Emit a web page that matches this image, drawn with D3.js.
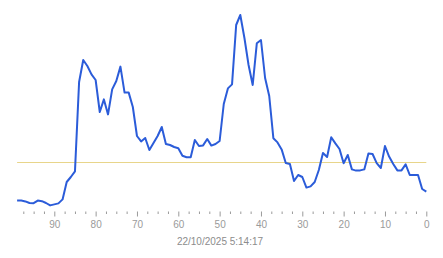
<!DOCTYPE html>
<html>
<head>
<meta charset="utf-8">
<script src="https://cdn.jsdelivr.net/npm/d3@7"></script>
<style>
  html, body { margin: 0; padding: 0; background: #fff; }
  svg { display: block; }
  .axis text { font-family: "Liberation Sans", Arial, sans-serif; font-size: 10px; fill: #9a9a9a; }
  .axis line { stroke: #9a9a9a; }
</style>
</head>
<body>
<div id="chart"></div>
<script>
// samples, oldest first (99 samples ago ... 0 = now)
const values = [
  4.7, 4.7, 4.3, 3.5, 3.4, 4.7, 4.4, 3.5, 2.3, 2.8,
  3.3, 5.3, 14, 16.5, 19.3, 64, 75, 72, 67.8, 65,
  49, 55.3, 47.8, 60.3, 64.5, 71.7, 58.7, 58.7, 51.5, 37,
  34.3, 36, 30, 33.5, 37, 41.5, 33, 32.5, 31.5, 30.9,
  27.1, 26.4, 26.4, 35, 32, 32.3, 35.5, 32.2, 33, 34.5,
  53, 60.8, 62.8, 92.5, 97.5, 86, 72.5, 62.5, 83.4, 85,
  66, 57, 35.9, 33.8, 30.3, 23.5, 23, 14.5, 17.5, 16.5,
  11.2, 11.8, 14, 20, 28.5, 26.5, 36.4, 33.3, 30.5, 23.4,
  27.5, 20.3, 19.7, 19.8, 20.3, 28.3, 28, 23.4, 21, 32,
  26.7, 23, 19.8, 19.8, 22.8, 17.5, 17.5, 17.5, 10.5, 9.2
];
const threshold = 23.9;
const majorTicks = [90, 80, 70, 60, 50, 40, 30, 20, 10, 0];
const timestamp = "22/10/2025 5:14:17";

const width = 443, height = 258;
const data = values.map((v, i) => ({ ago: values.length - 1 - i, v: v }));

const x = d3.scaleLinear().domain([99, 0]).range([17.1, 426.3]);
const y = d3.scaleLinear().domain([0, 100]).range([210, 10]);

const svg = d3.select("#chart").append("svg")
    .attr("width", width)
    .attr("height", height);

// minor ticks every 2.5
const minorTicks = d3.range(0, 99, 2.5).filter(d => d % 10 !== 0);
svg.append("g")
    .attr("class", "axis minor")
    .attr("transform", "translate(0,211.5)")
    .call(d3.axisBottom(x).tickValues(minorTicks).tickSize(2.5).tickFormat(""))
    .call(g => g.select(".domain").remove());

svg.append("g")
    .attr("class", "axis major")
    .attr("transform", "translate(0,211.5)")
    .call(d3.axisBottom(x).tickValues(majorTicks).tickSize(5).tickPadding(4).tickFormat(d3.format("d")))
    .call(g => g.select(".domain").remove());

// threshold line
svg.append("line")
    .attr("x1", x(99))
    .attr("x2", x(0))
    .attr("y1", Math.round(y(threshold)) + 0.5)
    .attr("y2", Math.round(y(threshold)) + 0.5)
    .style("stroke", "#e8d58a")
    .style("stroke-width", 1);

const valueline = d3.line()
    .x(function(d) { return x(d.ago); })
    .y(function(d) { return y(d.v); });

svg.append("path")
    .attr("d", valueline(data))
    .style("fill", "none")
    .style("stroke", "#2b5cd9")
    .style("stroke-width", 2)
    .style("stroke-linejoin", "round");

svg.append("text")
    .attr("x", 220)
    .attr("y", 244.5)
    .attr("text-anchor", "middle")
    .style("font-family", "'Liberation Sans', Arial, sans-serif")
    .style("font-size", "10px")
    .style("fill", "#8c8c8c")
    .text(timestamp);
</script>
</body>
</html>
